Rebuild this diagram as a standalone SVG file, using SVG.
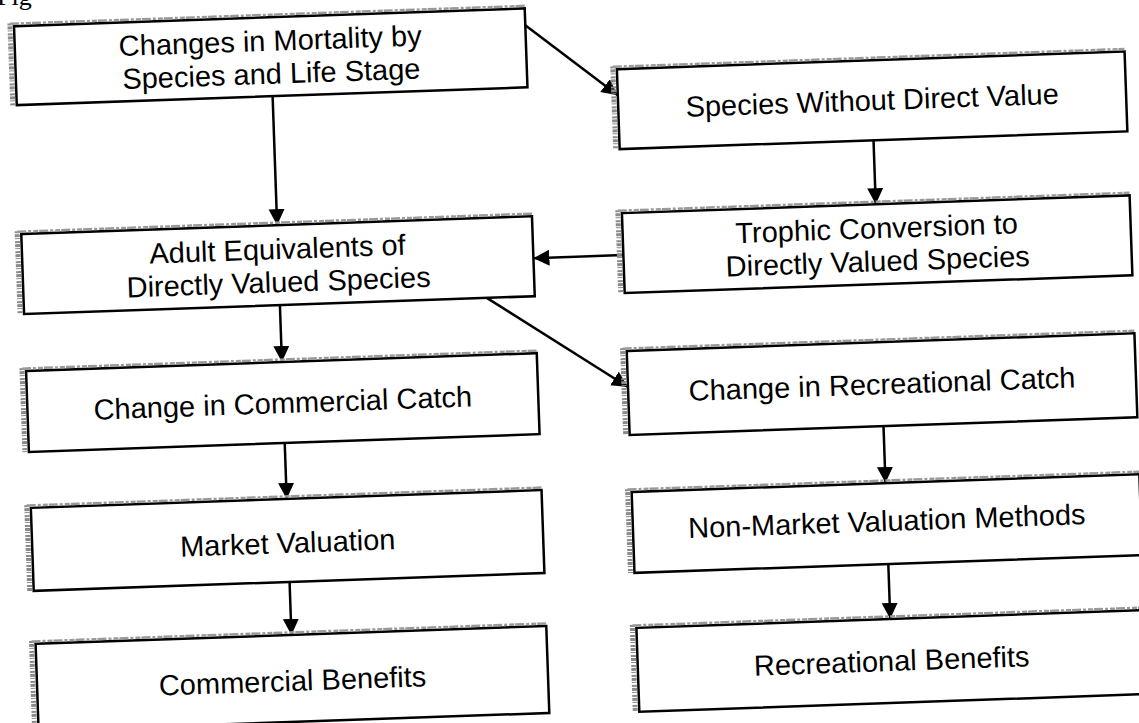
<svg xmlns="http://www.w3.org/2000/svg" width="1139" height="723" viewBox="0 0 1139 723">
<style>
.box{fill:#fff;stroke:#000;stroke-width:2.5}
.scanL{fill:none;stroke:#8a8a8a;stroke-width:5;stroke-dasharray:2 1 3 1 1 2}
.scanT{fill:none;stroke:#9a9a9a;stroke-width:2.5;stroke-dasharray:9 2 3 2 5 1}
.lbl{font-family:"Liberation Sans",Arial,sans-serif;font-size:29px;fill:#000;text-anchor:middle}
.conn{fill:none;stroke:#000;stroke-width:2.5;marker-end:url(#ah)}
</style>
<defs>
<marker id="ah" markerUnits="userSpaceOnUse" markerWidth="18" markerHeight="18" refX="16" refY="8" orient="auto">
<path d="M0,0 L16,8 L0,16 Z" fill="#000"/>
</marker>
</defs>
<rect width="1139" height="723" fill="#fff"/>
<text x="-3" y="5" font-family="'Liberation Serif',serif" font-size="26" fill="#000">Fig</text>
<g transform="rotate(-2 570 360)">
<g id="connectors">
<line class="conn" x1="282" y1="86" x2="282" y2="215"/>
<line class="conn" x1="537" y1="24" x2="627" y2="97"/>
<line class="conn" x1="881" y1="151" x2="881" y2="215"/>
<line class="conn" x1="627" y1="257" x2="537" y2="257"/>
<line class="conn" x1="282" y1="295" x2="282" y2="352"/>
<line class="conn" x1="489" y1="295" x2="627" y2="389"/>
<line class="conn" x1="282" y1="433" x2="282" y2="489"/>
<line class="conn" x1="282" y1="572" x2="282" y2="625"/>
<line class="conn" x1="881" y1="437" x2="881" y2="494"/>
<line class="conn" x1="881" y1="575" x2="881" y2="630"/>
</g>
<g id="n1">
<rect class="box" x="26" y="7" width="511" height="79"/>
<path class="scanL" d="M22,4 V86"/><path class="scanT" d="M22,4.5 H537"/>
<text class="lbl" x="281.5" y="40.5">Changes in Mortality by</text>
<text class="lbl" x="281.5" y="73.5">Species and Life Stage</text>
</g>
<g id="n2">
<rect class="box" x="627" y="71" width="508" height="80"/>
<path class="scanL" d="M623,68 V151"/><path class="scanT" d="M623,68.5 H1135"/>
<text class="lbl" x="881" y="121">Species Without Direct Value</text>
</g>
<g id="n3">
<rect class="box" x="627" y="215" width="508" height="80"/>
<path class="scanL" d="M623,212 V295"/><path class="scanT" d="M623,212.5 H1135"/>
<text class="lbl" x="881" y="249">Trophic Conversion to</text>
<text class="lbl" x="881" y="282">Directly Valued Species</text>
</g>
<g id="n4">
<rect class="box" x="26" y="215" width="511" height="80"/>
<path class="scanL" d="M22,212 V295"/><path class="scanT" d="M22,212.5 H537"/>
<text class="lbl" x="281.5" y="249">Adult Equivalents of</text>
<text class="lbl" x="281.5" y="282">Directly Valued Species</text>
</g>
<g id="n5">
<rect class="box" x="26" y="352" width="511" height="81"/>
<path class="scanL" d="M22,349 V433"/><path class="scanT" d="M22,349.5 H537"/>
<text class="lbl" x="281.5" y="403">Change in Commercial Catch</text>
</g>
<g id="n6">
<rect class="box" x="627" y="353" width="508" height="84"/>
<path class="scanL" d="M623,350 V437"/><path class="scanT" d="M623,350.5 H1135"/>
<text class="lbl" x="881" y="405">Change in Recreational Catch</text>
</g>
<g id="n7">
<rect class="box" x="26" y="489" width="511" height="83"/>
<path class="scanL" d="M22,486 V572"/><path class="scanT" d="M22,486.5 H537"/>
<text class="lbl" x="281.5" y="543">Market Valuation</text>
</g>
<g id="n8">
<rect class="box" x="627" y="494" width="508" height="81"/>
<path class="scanL" d="M623,491 V575"/><path class="scanT" d="M623,491.5 H1135"/>
<text class="lbl" x="881" y="542">Non-Market Valuation Methods</text>
</g>
<g id="n9">
<rect class="box" x="26" y="625" width="511" height="87"/>
<path class="scanL" d="M22,622 V712"/><path class="scanT" d="M22,622.5 H537"/>
<text class="lbl" x="281.5" y="681">Commercial Benefits</text>
</g>
<g id="n10">
<rect class="box" x="627" y="630" width="508" height="84"/>
<path class="scanL" d="M623,627 V714"/><path class="scanT" d="M623,627.5 H1135"/>
<text class="lbl" x="881" y="682">Recreational Benefits</text>
</g>
</g>
</svg>
